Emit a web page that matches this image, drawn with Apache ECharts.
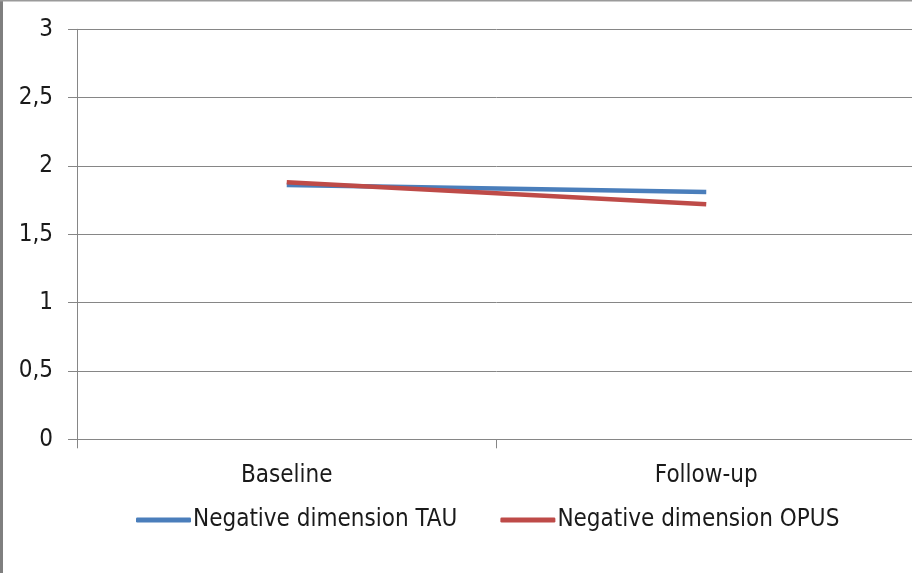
<!DOCTYPE html>
<html>
<head>
<meta charset="utf-8">
<script src="https://cdn.jsdelivr.net/npm/echarts@6/dist/echarts.min.js"></script>
<style>
html,body{margin:0;padding:0;background:#fff;overflow:hidden;width:912px;height:573px;}
#chart{width:916px;height:573px;}
</style>
</head>
<body>
<div id="chart"></div>
<script>
const categories = ['Baseline', 'Follow-up'];
const tauValues = [1.86, 1.81];
const opusValues = [1.88, 1.72];
const seriesNames = ['Negative dimension TAU', 'Negative dimension OPUS'];
const yTicks = { min: 0, max: 3, interval: 0.5 };

const FONT = '"Liberation Sans Narrow", "DejaVu Sans Condensed", "Liberation Sans", sans-serif';
const chart = echarts.init(document.getElementById('chart'), null, { renderer: 'canvas' });
chart.setOption({
  backgroundColor: '#ffffff',
  animation: false,
  grid: { left: 77, right: 0, top: 29.3, bottom: 133.7, containLabel: false },
  xAxis: {
    type: 'category',
    data: categories,
    boundaryGap: true,
    axisLine: { lineStyle: { color: '#868686', width: 1 } },
    axisTick: { show: true, length: 9, lineStyle: { color: '#868686' } },
    axisLabel: { color: '#1a1a1a', fontSize: 24, fontFamily: FONT, margin: 24 },
    splitLine: { show: false }
  },
  yAxis: {
    type: 'value',
    min: yTicks.min, max: yTicks.max, interval: yTicks.interval,
    axisLine: { show: true, lineStyle: { color: '#868686', width: 1 } },
    axisTick: { show: true, length: 9, lineStyle: { color: '#868686' } },
    axisLabel: {
      color: '#1a1a1a', fontSize: 24, fontFamily: FONT, margin: 24,
      formatter: v => String(v).replace('.', ',')
    },
    splitLine: { show: true, lineStyle: { color: '#868686', width: 1 } }
  },
  legend: {
    bottom: 36,
    left: 131,
    itemWidth: 55,
    itemHeight: 5,
    itemGap: 43,
    icon: 'roundRect',
    textStyle: { color: '#1a1a1a', fontSize: 24, fontFamily: FONT, padding: [0, 0, 0, -3] },
    data: seriesNames
  },
  series: [
    {
      name: seriesNames[0], type: 'line', data: tauValues,
      showSymbol: false, symbol: 'none',
      lineStyle: { color: '#4a7ebb', width: 4.5 },
      itemStyle: { color: '#4a7ebb' }
    },
    {
      name: seriesNames[1], type: 'line', data: opusValues,
      showSymbol: false, symbol: 'none',
      lineStyle: { color: '#be4b48', width: 4.5 },
      itemStyle: { color: '#be4b48' }
    }
  ],
  graphic: [
    { type: 'rect', shape: { x: 0, y: 0, width: 3, height: 573 }, style: { fill: '#7f7f7f' }, silent: true },
    { type: 'rect', shape: { x: 0, y: 0, width: 916, height: 1.5 }, style: { fill: '#9a9a9a' }, silent: true }
  ]
});
</script>
</body>
</html>
